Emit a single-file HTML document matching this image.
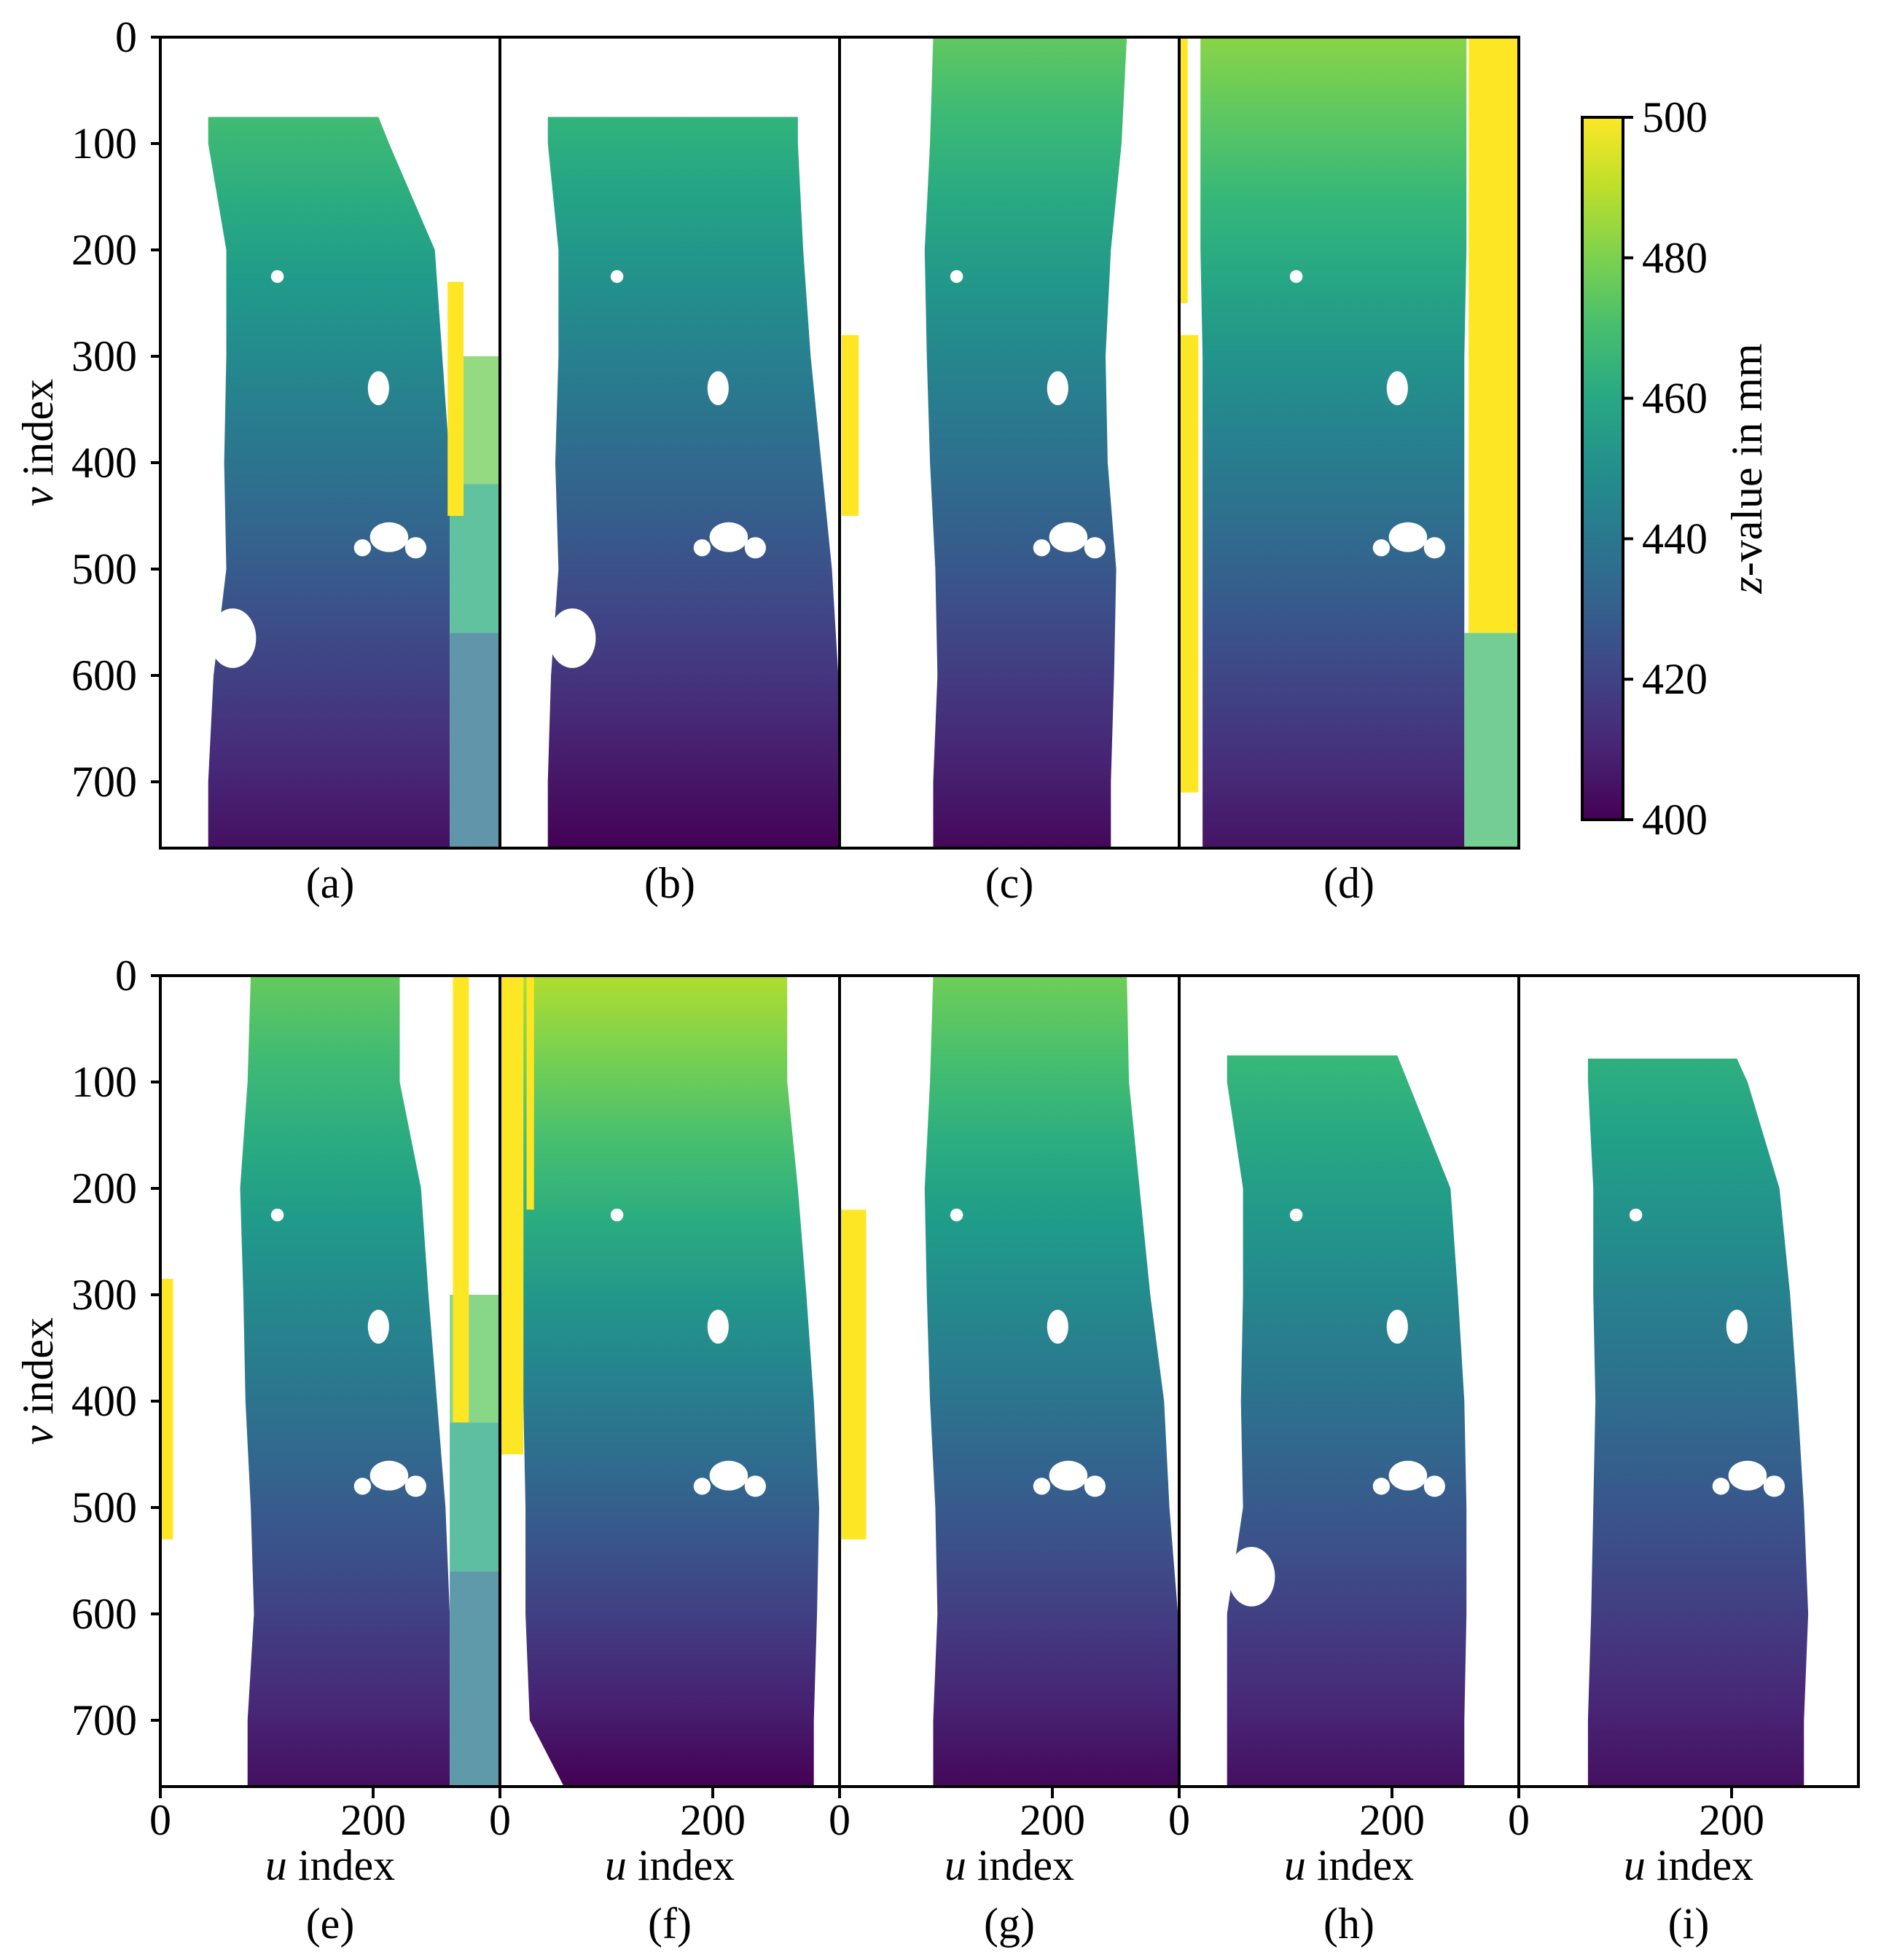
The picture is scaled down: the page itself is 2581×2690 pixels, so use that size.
<!DOCTYPE html>
<html><head><meta charset="utf-8"><style>
html,body{margin:0;padding:0;background:#fff}
svg{display:block;font-family:"Liberation Serif",serif}
</style></head><body>
<svg id="fig" width="2581" height="2690" viewBox="0 0 2581 2690" xmlns="http://www.w3.org/2000/svg"></svg>
<script>
// ---- data ----
const panelLabels = ["(a)","(b)","(c)","(d)","(e)","(f)","(g)","(h)","(i)"];
const vTicks = [0,100,200,300,400,500,600,700];
const uTicks = [0,200];
const cbTicks = [400,420,440,460,480,500];
const vLevels = [0,100,200,300,400,500,600,700,762];
const leftBound = [
 [45,45,62,62,60,62,50,45,45],
 [45,45,55,55,52,55,48,45,45],
 [88,85,80,82,85,90,92,88,88],
 [20,20,20,22,22,22,22,22,22],
 [85,82,75,78,80,85,88,82,82],
 [22,22,22,22,22,24,24,28,60],
 [88,85,80,82,85,90,92,88,88],
 [45,45,60,60,58,60,45,45,45],
 [65,65,70,70,72,70,68,65,65]
];
const rightBound = [
 [205,215,258,265,272,272,272,272,272],
 [280,280,285,292,302,312,318,320,320],
 [270,265,255,250,252,260,258,255,255],
 [270,270,270,268,268,268,268,268,268],
 [225,225,245,252,260,268,272,272,272],
 [270,270,280,288,295,300,298,295,295],
 [270,272,282,292,305,310,318,320,320],
 [205,215,255,262,268,270,270,268,268],
 [205,215,245,255,262,268,272,268,268]
];
const vTop = [75,75,0,0,0,0,0,75,78];
const zTop = [476,472,475,482,476,488,478,474,470];
const zBot = [404,400,402,405,404,400,402,404,404];
// yellow strips [uStart,uEnd,vStart,vEnd]
const yellowStrips = [
 [[270,285,230,450]],
 [],
 [[2,18,280,450]],
 [[272,320,0,560],[0,18,280,710],[0,8,0,250]],
 [[0,12,285,530],[275,290,0,420]],
 [[0,22,0,450],[25,32,0,220]],
 [[0,25,220,530]],
 [],
 []
];
// side patches [panel,u0,u1,v0,v1,z]
const sidePatches = [
 [0,272,320,300,420,478],[0,272,320,420,560,462],[0,272,320,560,762,438],
 [3,268,320,560,762,470],
 [4,272,320,300,420,475],[4,272,320,420,560,460],[4,272,320,560,762,440]
];
// white holes [u,v,ru,rv] common scene features
const holes = [[205,330,10,16],[215,470,18,14],[190,480,8,8],[240,480,10,10],[110,225,6,6]];
const notchPanels = [0,1,7];
// ---- layout ----
const NS="http://www.w3.org/2000/svg";
const svg=document.getElementById('fig');
const PX=1.46, AW=466, AH=1113;
const rows=[{y:51,n:4,start:0},{y:1339,n:5,start:4}];
const X0=220;
const viridis=[[68,1,84],[72,40,120],[62,74,137],[49,104,142],[38,130,142],[31,158,137],[53,183,121],[110,206,88],[181,222,43],[253,231,37]];
function vcol(z){let t=Math.max(0,Math.min(1,(z-400)/100))*9;let i=Math.min(8,Math.floor(t)),f=t-i;const a=viridis[i],b=viridis[i+1];return `rgb(${a.map((c,k)=>Math.round(c+(b[k]-c)*f)).join(',')})`;}
function el(tag,attrs,parent){const e=document.createElementNS(NS,tag);for(const k in attrs)e.setAttribute(k,attrs[k]);(parent||svg).appendChild(e);return e;}
const defs=el('defs',{});
function txt(s,x,y,size,anchor,parent){const t=el('text',{x:x,y:y,'font-size':size,'text-anchor':anchor||'middle','dominant-baseline':'central',fill:'#000'},parent);t.textContent=s;return t;}

rows.forEach((row,ri)=>{
 for(let j=0;j<row.n;j++){
  const p=row.start+j;
  const ax=X0+j*AW, ay=row.y;
  const g=el('g',{});
  
  
  const sx=u=>ax+u*PX, sy=v=>ay+v*PX;
  const gid='grad'+p;
  const lg=el('linearGradient',{id:gid,gradientUnits:'userSpaceOnUse',x1:0,y1:sy(0),x2:0,y2:sy(762)},defs);
  for(let k=0;k<=10;k++){const v=762*k/10;el('stop',{offset:k/10,'stop-color':vcol(zTop[p]+(zBot[p]-zTop[p])*v/762)},lg);}
  const cid='clip'+p;
  const cp=el('clipPath',{id:cid},defs);
  el('rect',{x:ax,y:ay,width:AW,height:AH},cp);
  const inner=el('g',{'clip-path':'url(#'+cid+')'},g);
  let pts=[];
  const L=leftBound[p],R=rightBound[p];
  vLevels.forEach((v,i)=>{const vv=Math.max(v,vTop[p]);pts.push(sx(L[i])+','+sy(vv));});
  for(let i=vLevels.length-1;i>=0;i--){const vv=Math.max(vLevels[i],vTop[p]);pts.push(sx(R[i])+','+sy(vv));}
  const poly=el('polygon',{points:pts.join(' '),fill:'url(#'+gid+')'},inner);
  
  
  sidePatches.filter(s=>s[0]===p).forEach(s=>{
   const r=el('rect',{x:sx(s[1]),y:sy(s[3]),width:(s[2]-s[1])*PX,height:(s[4]-s[3])*PX,fill:vcol(s[5]),opacity:0.75},inner);
   
   
  });
  yellowStrips[p].forEach(s=>{
   const r=el('rect',{x:sx(s[0]),y:sy(s[2]),width:(s[1]-s[0])*PX,height:(s[3]-s[2])*PX,fill:'#fde725'},inner);
   
   
  });
  holes.forEach(h=>{
   const e=el('ellipse',{cx:sx(h[0]),cy:sy(h[1]),rx:h[2]*PX,ry:h[3]*PX,fill:'#fff'},inner);
   
   
  });
  if(notchPanels.includes(p)){
   const e=el('ellipse',{cx:sx(68),cy:sy(565),rx:22*PX,ry:28*PX,fill:'#fff'},inner);
   
   
  }
  const fr=el('rect',{x:ax,y:ay,width:AW,height:AH,fill:'none',stroke:'#000','stroke-width':4},g);
  
  
  if(j===0){
   vTicks.forEach(t=>{el('line',{x1:ax-13,x2:ax,y1:sy(t),y2:sy(t),stroke:'#000','stroke-width':4},g);
    const tl=txt(String(t),ax-32,sy(t),60,'end',g);
    
    });
   const yt=el('text',{x:0,y:0,'font-size':60,'text-anchor':'middle','dominant-baseline':'central',transform:`translate(52,${ay+AH/2}) rotate(-90)`},g);
   yt.innerHTML='<tspan font-style="italic">v</tspan> index';
   
   
  }
  const cy=ay+AH;
  if(ri===1){
   uTicks.forEach(t=>{el('line',{x1:sx(t),x2:sx(t),y1:cy,y2:cy+16,stroke:'#000','stroke-width':4},g);
    const tl=txt(String(t),sx(t),cy+46,60,'middle',g);
    
    });
   const xt=el('text',{x:ax+AW/2,y:cy+108,'font-size':60,'text-anchor':'middle','dominant-baseline':'central'},g);
   xt.innerHTML='<tspan font-style="italic">u</tspan> index';
   
   
   const pl=txt(panelLabels[p],ax+AW/2,cy+188,60,'middle',g);
   
   
  } else {
   const pl=txt(panelLabels[p],ax+AW/2,cy+48,60,'middle',g);
   
   
  }
 }
});
// colorbar
const cb=el('g',{});


const cbx=2171,cbw=56,cbt=161,cbb=1125;
const cg=el('linearGradient',{id:'cbg',x1:0,y1:1,x2:0,y2:0},defs);
for(let k=0;k<=10;k++)el('stop',{offset:k/10,'stop-color':vcol(400+10*k)},cg);
el('rect',{x:cbx,y:cbt,width:cbw,height:cbb-cbt,fill:'url(#cbg)',stroke:'#000','stroke-width':4},cb);
cbTicks.forEach(t=>{const y=cbb-(t-400)/100*(cbb-cbt);
 el('line',{x1:cbx+cbw,x2:cbx+cbw+14,y1:y,y2:y,stroke:'#000','stroke-width':4},cb);
 const tl=txt(String(t),cbx+cbw+26,y,60,'start',cb);
 
 });
const ct=el('text',{x:0,y:0,'font-size':60,'text-anchor':'middle','dominant-baseline':'central',transform:`translate(2397,${(cbt+cbb)/2}) rotate(-90)`},cb);
ct.innerHTML='<tspan font-style="italic">z</tspan>-value in mm';


</script>
</body></html>
